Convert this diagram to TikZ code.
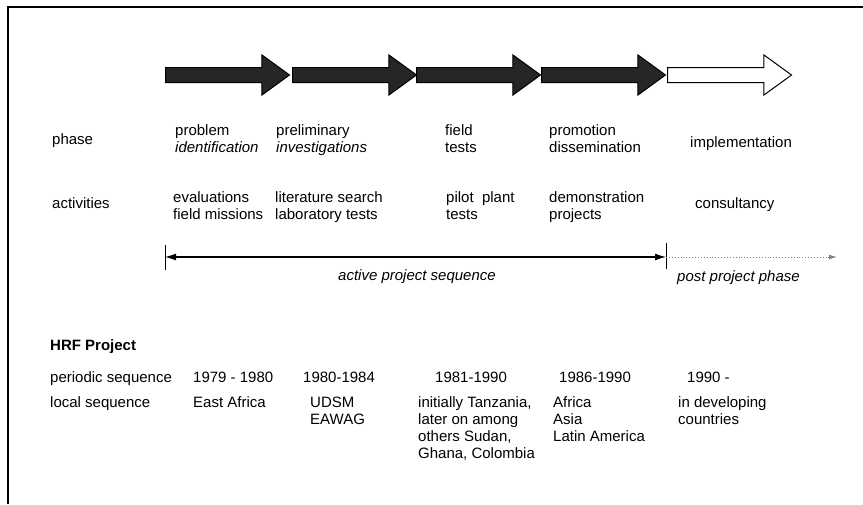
\documentclass[tikz,border=0pt]{standalone}
\usepackage{fontspec}
\setmainfont{Liberation Sans}
\usetikzlibrary{shapes.arrows,arrows.meta}
\tikzset{
  stage/.style={single arrow, draw=black, line width=1pt, minimum height=124pt,
    inner xsep=0pt, inner ysep=7pt, single arrow head extend=12.5pt,
    single arrow tip angle=72, anchor=west},
  lbl/.style={anchor=base west, align=left, inner sep=0pt},
}
\begin{document}
\begin{tikzpicture}[x=1pt,y=-1pt,font=\fontsize{15}{17}\selectfont]
\useasboundingbox (0,0) rectangle (863,504);
% frame
\draw[line width=1.5pt] (8,504) -- (8,7) -- (863,7);
% stages
\foreach \i/\x in {1/165,2/292,3/416,4/541}
  \node[stage,fill=black!85] (s\i) at (\x,75) {};
\node[stage,fill=white] (s5) at (667,75) {};
% phase row (base = last line)
\node[lbl] (rphase) at (52,144) {phase};
\foreach \i/\x/\v in {1/175/{problem\\\textit{identification}},
    2/276/{preliminary\\\textit{investigations}},
    3/445/{field\\tests},4/549/{promotion\\dissemination}}
  \node[lbl] (ph\i) at (\x,152) {\v};
\node[lbl] (ph5) at (690,147) {implementation};
% activities row
\node[lbl] (ract) at (52,208) {activities};
\foreach \i/\x/\v in {1/173/{evaluations\\field missions},
    2/275/{literature search\\laboratory tests},
    3/446/{pilot\ \ plant\\tests},4/549/{demonstration\\projects}}
  \node[lbl] (ac\i) at (\x,219) {\v};
\node[lbl] (ac5) at (695,208) {consultancy};
% project sequence
\coordinate (la) at (165,257);
\coordinate (lb) at (666,257);
\coordinate (lc) at (837,257);
\draw[line width=1pt] (165,245) -- (165,270);
\draw[line width=1pt] (666,243) -- (666,269);
\draw[line width=1.2pt,{Latex[length=11pt,width=7pt]}-{Latex[length=11pt,width=7pt]}] (la) -- (lb);
\draw[gray,dotted,line width=0.9pt,-{Latex[length=8pt,width=5pt]}] (lb) -- (lc);
\node[anchor=base,inner sep=0pt,font=\fontsize{15}{17}\selectfont\itshape] (act) at (417,280) {active project sequence};
\node[lbl,font=\fontsize{15}{17}\selectfont\itshape] (post) at (677,281) {post project phase};
% HRF project
\node[lbl,font=\fontsize{15}{17}\selectfont\bfseries] (hrf) at (50,350) {HRF Project};
\node[lbl] (rper) at (50,382) {periodic sequence};
\node[lbl] (rloc) at (50,407) {local sequence};
\foreach \i/\x/\v in {1/193/{1979 - 1980},2/303/{1980-1984},3/435/{1981-1990},
    4/559/{1986-1990},5/687/{1990 -}}
  \node[lbl] (pe\i) at (\x,382) {\v};
\foreach \i/\x/\y/\v in {1/193/407/{East Africa},2/310/424/{UDSM\\EAWAG},
    3/418/458/{initially Tanzania,\\later on among\\others Sudan,\\Ghana, Colombia},
    4/553/441/{Africa\\Asia\\Latin America},5/678/424/{in developing\\countries}}
  \node[lbl] (lo\i) at (\x,\y) {\v};
\end{tikzpicture}
\end{document}
